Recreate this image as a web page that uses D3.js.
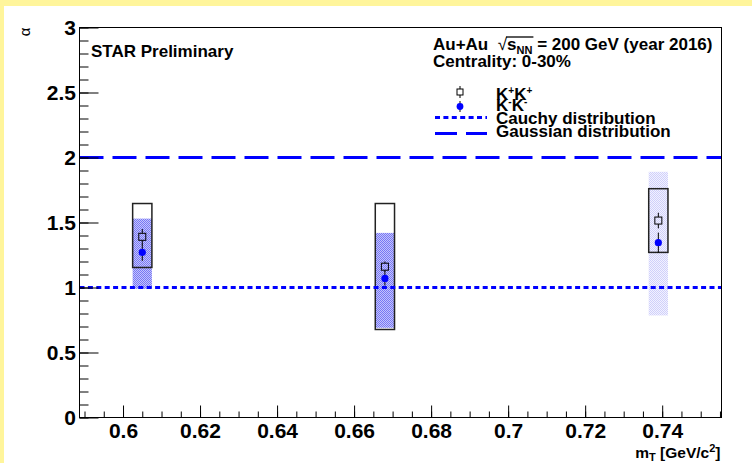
<!DOCTYPE html>
<html>
<head>
<meta charset="utf-8">
<script src="https://cdn.jsdelivr.net/npm/d3@7"></script>
<style>
  body { margin: 0; background: #fff; }
  text { font-family: "Liberation Sans", Arial, sans-serif; white-space: pre; }
</style>
</head>
<body>
<svg id="chart"></svg>
<script>
// Levy index alpha vs mT
const mT = [0.605, 0.668, 0.739];

// K+K+ (open squares, black systematic boxes)
const kpAlpha = [1.39, 1.16, 1.515];
const kpStat = [0.06, 0.04, 0.06];
const kpSysLow = [1.154, 0.677, 1.27];
const kpSysHigh = [1.646, 1.646, 1.76];

// K-K- (blue dots, shaded systematic bands)
const kmAlpha = [1.27, 1.07, 1.345];
const kmStat = [0.065, 0.055, 0.077];
const kmSysLow = [0.99, 0.69, 0.785];
const kmSysHigh = [1.53, 1.42, 1.89];

const sysHalfWidth = 0.0025;
const cauchyAlpha = 1;
const gaussAlpha = 2;

const xTickValues = [0.6, 0.62, 0.64, 0.66, 0.68, 0.7, 0.72, 0.74];
const xTickLabels = ["0.6", "0.62", "0.64", "0.66", "0.68", "0.7", "0.72", "0.74"];
const yTickValues = [0, 0.5, 1, 1.5, 2, 2.5, 3];
const yTickLabels = ["0", "0.5", "1", "1.5", "2", "2.5", "3"];

const width = 752, height = 463;
const frame = { left: 79.5, top: 27.5, right: 721.5, bottom: 417.5 };
const blue = "#0000ff";

const svg = d3.select("#chart")
    .attr("width", width)
    .attr("height", height);

// canvas border (yellow on top / left)
svg.append("rect").attr("width", width).attr("height", height).attr("fill", "#fff59b");
svg.append("rect").attr("x", 4).attr("y", 6).attr("width", width - 4).attr("height", height - 6).attr("fill", "#fff");

const x = d3.scaleLinear().domain([0.5887, 0.7554]).range([frame.left, frame.right]);
const y = d3.scaleLinear().domain([0, 3]).range([frame.bottom, frame.top]);

// shading patterns for the K-K- systematics
const defs = svg.append("defs");
function checker(id, c1, c2) {
    const p = defs.append("pattern").attr("id", id)
        .attr("width", 2).attr("height", 2).attr("patternUnits", "userSpaceOnUse");
    p.append("rect").attr("width", 2).attr("height", 2).attr("fill", c2);
    p.append("rect").attr("width", 1).attr("height", 1).attr("fill", c1);
    p.append("rect").attr("x", 1).attr("y", 1).attr("width", 1).attr("height", 1).attr("fill", c1);
}
checker("shadeDark", "#7878f4", "#c4c4fc");
checker("shadeLight", "#d0d0fa", "#f2f2ff");
const shadeFor = i => i === 2 ? "url(#shadeLight)" : "url(#shadeDark)";

// K-K- systematic bands
svg.append("g").selectAll("rect")
    .data(mT)
    .join("rect")
    .attr("x", d => x(d - sysHalfWidth))
    .attr("width", d => x(d + sysHalfWidth) - x(d - sysHalfWidth))
    .attr("y", (d, i) => y(kmSysHigh[i]))
    .attr("height", (d, i) => y(kmSysLow[i]) - y(kmSysHigh[i]))
    .attr("fill", (d, i) => shadeFor(i));

// K+K+ systematic boxes
svg.append("g").selectAll("rect")
    .data(mT)
    .join("rect")
    .attr("x", d => x(d - sysHalfWidth))
    .attr("width", d => x(d + sysHalfWidth) - x(d - sysHalfWidth))
    .attr("y", (d, i) => y(kpSysHigh[i]))
    .attr("height", (d, i) => y(kpSysLow[i]) - y(kpSysHigh[i]))
    .attr("fill", "none")
    .attr("stroke", "#222")
    .attr("stroke-width", 1.5);

// reference lines
svg.append("line")
    .attr("x1", frame.left).attr("x2", frame.right)
    .attr("y1", y(cauchyAlpha)).attr("y2", y(cauchyAlpha))
    .attr("stroke", blue).attr("stroke-width", 3)
    .attr("stroke-dasharray", "5,3.4");
svg.append("line")
    .attr("x1", frame.left).attr("x2", frame.right)
    .attr("y1", y(gaussAlpha)).attr("y2", y(gaussAlpha))
    .attr("stroke", blue).attr("stroke-width", 3)
    .attr("stroke-dasharray", "24,9");

// statistical error bars + markers
const sq = 3.5;
const kp = svg.append("g");
mT.forEach((d, i) => {
    const cx = x(d), cy = y(kpAlpha[i]);
    kp.append("line").attr("x1", cx).attr("x2", cx)
        .attr("y1", y(kpAlpha[i] + kpStat[i])).attr("y2", cy - sq)
        .attr("stroke", "#000");
    kp.append("line").attr("x1", cx).attr("x2", cx)
        .attr("y1", cy + sq).attr("y2", y(kpAlpha[i] - kpStat[i]))
        .attr("stroke", "#000");
    kp.append("rect").attr("x", cx - sq).attr("y", cy - sq)
        .attr("width", 2 * sq).attr("height", 2 * sq)
        .attr("fill", "none").attr("stroke", "#000").attr("stroke-width", 1);
});
const km = svg.append("g");
mT.forEach((d, i) => {
    const cx = x(d);
    km.append("line").attr("x1", cx).attr("x2", cx)
        .attr("y1", y(kmAlpha[i] + kmStat[i])).attr("y2", y(kmAlpha[i] - kmStat[i]))
        .attr("stroke", "#000");
    km.append("circle").attr("cx", cx).attr("cy", y(kmAlpha[i]))
        .attr("r", 3.6).attr("fill", blue);
});

// axes (ROOT style: ticks pointing inwards)
const minorX = d3.range(118, 152).map(i => i * 0.005).filter(v => v >= x.domain()[0] && v <= x.domain()[1]);
svg.append("g").attr("transform", `translate(0,${frame.bottom})`)
    .call(d3.axisBottom(x).tickValues(minorX).tickSize(-6).tickFormat(""))
    .call(g => g.select(".domain").remove());
svg.append("g").attr("transform", `translate(0,${frame.bottom})`)
    .call(d3.axisBottom(x).tickValues(xTickValues).tickSize(-12).tickPadding(5.5)
        .tickFormat((d, i) => xTickLabels[i]))
    .call(g => g.select(".domain").remove())
    .call(g => g.selectAll("text").attr("font-size", 21).attr("font-weight", "bold")
        .attr("font-family", "Liberation Sans, Arial, sans-serif").attr("fill", "#000"));

const minorY = d3.range(0, 31).map(i => i / 10);
svg.append("g").attr("transform", `translate(${frame.left},0)`)
    .call(d3.axisLeft(y).tickValues(minorY).tickSize(-9).tickFormat(""))
    .call(g => g.select(".domain").remove());
svg.append("g").attr("transform", `translate(${frame.left},0)`)
    .call(d3.axisLeft(y).tickValues(yTickValues).tickSize(-19).tickPadding(3.5)
        .tickFormat((d, i) => yTickLabels[i]))
    .call(g => g.select(".domain").remove())
    .call(g => g.selectAll("text").attr("font-size", 21).attr("font-weight", "bold")
        .attr("font-family", "Liberation Sans, Arial, sans-serif").attr("fill", "#000"));

svg.selectAll(".tick line").attr("stroke", "#000");

// frame
svg.append("rect")
    .attr("x", frame.left).attr("y", frame.top)
    .attr("width", frame.right - frame.left).attr("height", frame.bottom - frame.top)
    .attr("fill", "none").attr("stroke", "#000").attr("stroke-width", 1);

// axis titles
svg.append("text")
    .attr("transform", `translate(30,${frame.top}) rotate(-90)`)
    .attr("text-anchor", "end")
    .attr("font-family", "DejaVu Sans, sans-serif")
    .attr("font-size", 15)
    .text("α");

const xt = svg.append("text")
    .attr("x", frame.right - 1).attr("y", 458)
    .attr("text-anchor", "end")
    .attr("font-size", 15.5).attr("font-weight", "bold");
xt.append("tspan").text("m");
xt.append("tspan").attr("font-size", 11).attr("dy", 3).text("T");
xt.append("tspan").attr("dy", -3).text(" [GeV/c");
xt.append("tspan").attr("font-size", 11).attr("dy", -6).text("2");
xt.append("tspan").attr("dy", 6).text("]");

// labels
svg.append("text").attr("x", 91).attr("y", 57)
    .attr("font-size", 17).attr("font-weight", "bold")
    .text("STAR Preliminary");

// Au+Au sqrt(s_NN) line, laid out piece by piece
const legX = 433;
const legFont = 17;
const pieces = [
    { t: "Au+Au\u00a0\u00a0", size: legFont, dy: 0 },
    { t: "√", size: legFont, dy: 0, root: true },
    { t: "s", size: legFont, dy: 0, over: true },
    { t: "NN", size: 11, dy: 4, over: true },
    { t: "\u00a0= 200 GeV (year 2016)", size: legFont, dy: 0 }
];
let cursor = legX;
let overStart = null, overEnd = null;
pieces.forEach(p => {
    const t = svg.append("text").attr("x", cursor).attr("y", 50 + p.dy)
        .attr("font-size", p.size).attr("font-weight", p.root ? "normal" : "bold")
        .attr("font-family", p.root ? "DejaVu Sans, sans-serif" : null)
        .text(p.t);
    const w = t.node().getComputedTextLength();
    if (p.over) {
        if (overStart === null) overStart = cursor;
        overEnd = cursor + w;
    }
    cursor += w;
});
svg.append("line").attr("x1", overStart - 1).attr("x2", overEnd + 1)
    .attr("y1", 37).attr("y2", 37).attr("stroke", "#000").attr("stroke-width", 1.3);

svg.append("text").attr("x", legX).attr("y", 67)
    .attr("font-size", legFont).attr("font-weight", "bold")
    .text("Centrality: 0-30%");

// legend entries
const entX = 496, symX = 460;
const e1 = svg.append("text").attr("x", entX).attr("y", 99.5).attr("font-size", legFont).attr("font-weight", "bold");
e1.append("tspan").text("K");
e1.append("tspan").attr("font-size", 10).attr("dy", -6).text("+");
e1.append("tspan").attr("dy", 6).text("K");
e1.append("tspan").attr("font-size", 10).attr("dy", -6).text("+");
const e2 = svg.append("text").attr("x", entX).attr("y", 110.5).attr("font-size", legFont).attr("font-weight", "bold");
e2.append("tspan").text("K");
e2.append("tspan").attr("font-size", 10).attr("dy", -6).text("-");
e2.append("tspan").attr("dy", 6).text("K");
e2.append("tspan").attr("font-size", 10).attr("dy", -6).text("-");
svg.append("text").attr("x", entX).attr("y", 124).attr("font-size", legFont).attr("font-weight", "bold")
    .text("Cauchy distribution");
svg.append("text").attr("x", entX).attr("y", 137).attr("font-size", legFont).attr("font-weight", "bold")
    .text("Gaussian distribution");

svg.append("line").attr("x1", symX).attr("x2", symX).attr("y1", 86).attr("y2", 98).attr("stroke", "#000");
svg.append("rect").attr("x", symX - 3).attr("y", 89).attr("width", 6).attr("height", 6)
    .attr("fill", "#fff").attr("stroke", "#000");
svg.append("line").attr("x1", symX).attr("x2", symX).attr("y1", 101).attr("y2", 112).attr("stroke", "#000");
svg.append("circle").attr("cx", symX).attr("cy", 106.5).attr("r", 3.4).attr("fill", blue);
svg.append("line").attr("x1", 435).attr("x2", 487).attr("y1", 117.5).attr("y2", 117.5)
    .attr("stroke", blue).attr("stroke-width", 3).attr("stroke-dasharray", "5,3.4");
svg.append("line").attr("x1", 435).attr("x2", 487).attr("y1", 133.5).attr("y2", 133.5)
    .attr("stroke", blue).attr("stroke-width", 3).attr("stroke-dasharray", "22,9");
</script>
</body>
</html>
